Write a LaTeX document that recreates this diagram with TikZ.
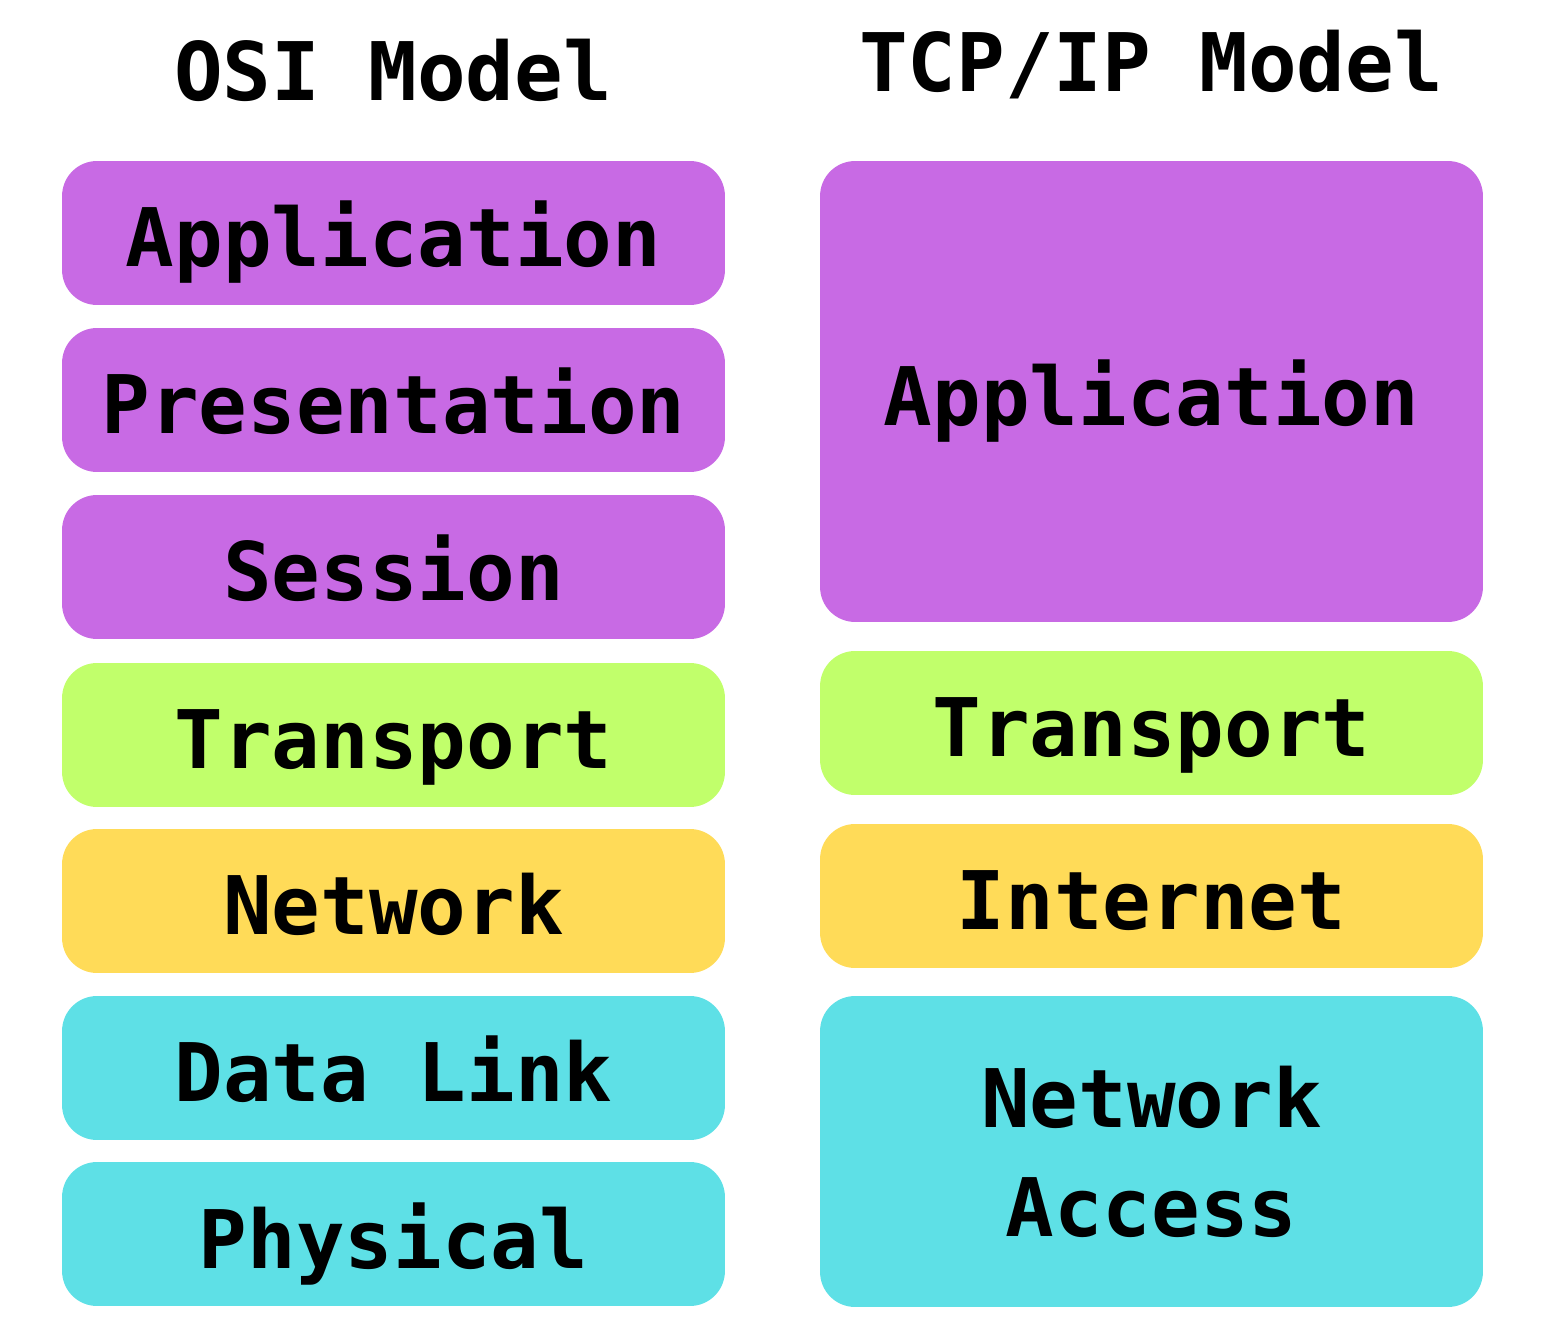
\documentclass[tikz,border=0pt]{standalone}
\usepackage{fontspec}
\setmonofont{DejaVu Sans Mono}
\usepackage{tikz}

\definecolor{layerapp}{HTML}{C86AE4}
\definecolor{layertrans}{HTML}{C1FF6B}
\definecolor{layernet}{HTML}{FFDB58}
\definecolor{layerlink}{HTML}{5EE0E6}

\begin{document}
\begin{tikzpicture}[x=0.02cm,y=-0.02cm]
        \useasboundingbox (0,0) rectangle (1545,1344);
        \tikzset{layer/.style={rectangle, rounded corners=0.7cm, draw=none, minimum width=13.26cm,
                 minimum height=2.88cm, inner sep=0pt, align=center,
                 font=\fontsize{46}{62}\selectfont\ttfamily\bfseries},
                 oneline/.style={text height=1.36cm, text depth=0pt}}
        \node[font=\fontsize{46}{62}\selectfont\ttfamily\bfseries] (osi) at (393,70) {OSI Model};
        \node[font=\fontsize{46}{62}\selectfont\ttfamily\bfseries] (tcp) at (1151,65) {TCP/IP Model};
        \begin{scope}[every node/.style={layer,oneline}]
            \node[fill=layerapp] (app) at (393.5,233) {Application};
            \node[fill=layerapp] (pres) at (393.5,400) {Presentation};
            \node[fill=layerapp] (sess) at (393.5,567) {Session};
            \node[fill=layertrans] (trans) at (393.5,735) {Transport};
            \node[fill=layernet] (net) at (393.5,901) {Network};
            \node[fill=layerlink] (link) at (393.5,1068) {Data Link};
            \node[fill=layerlink] (phys) at (393.5,1234) {Physical};

            \node[fill=layerapp, minimum height=9.22cm] (tapp) at (1151.5,391.5) {Application};
            \node[fill=layertrans] (ttrans) at (1151.5,723) {Transport};
            \node[fill=layernet] (tnet) at (1151.5,896) {Internet};
        \end{scope}
        \node[layer, fill=layerlink, minimum height=6.22cm] (tacc) at (1151.5,1151.5) {Network\\Access};
    \end{tikzpicture}
\end{document}
